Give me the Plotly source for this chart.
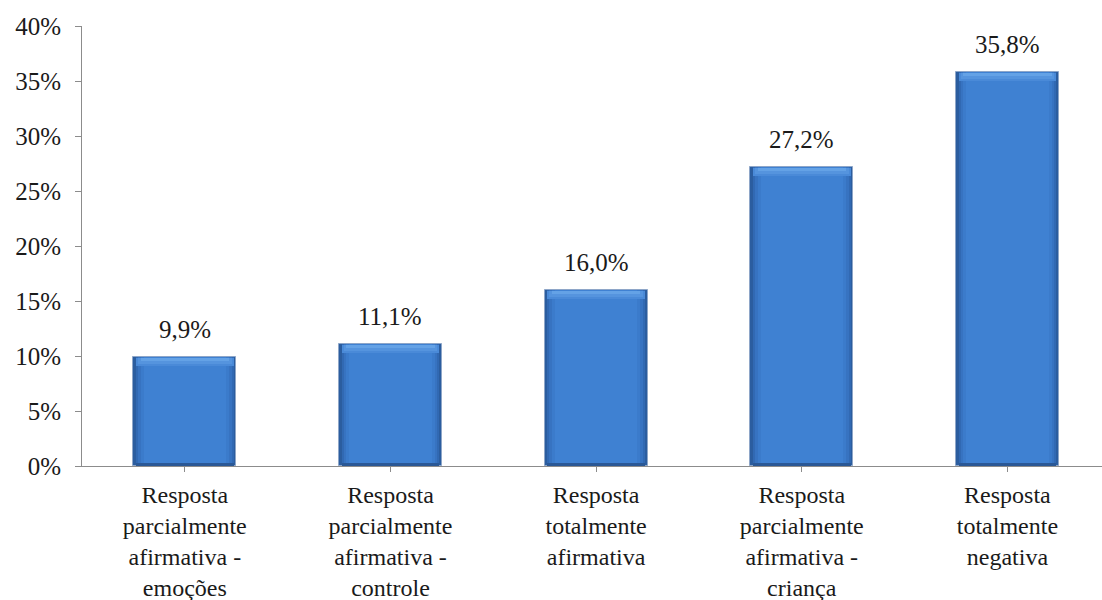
import plotly.graph_objects as go

categories = [
    "Resposta<br>parcialmente<br>afirmativa -<br>emoções",
    "Resposta<br>parcialmente<br>afirmativa -<br>controle",
    "Resposta<br>totalmente<br>afirmativa",
    "Resposta<br>parcialmente<br>afirmativa -<br>criança",
    "Resposta<br>totalmente<br>negativa",
]
values = [9.9, 11.1, 16.0, 27.2, 35.8]
y_ticks = [0, 5, 10, 15, 20, 25, 30, 35, 40]
y_tick_labels = ["0%", "5%", "10%", "15%", "20%", "25%", "30%", "35%", "40%"]

FONT = "Liberation Serif"
TEXT_COLOR = "#1a1a1a"
PX_PER_UNIT = 440 / 40.0  # plot height / y span
x = list(range(len(categories)))

fig = go.Figure()

# Layered bars give the bevelled, shaded look: darker rim, lighter core.
layers = [
    (0.50, "#2b5d9f", 1, "#8ea6c8"),
    (0.475, "#3169b3", 0, None),
    (0.455, "#3773c1", 0, None),
    (0.43, "#3b7bcb", 0, None),
    (0.40, "#3f81d2", 0, None),
]
for w, col, lw, lcol in layers:
    fig.add_trace(go.Bar(
        x=x, y=values, width=w,
        marker=dict(color=col, line=dict(width=lw, color=lcol or col)),
        hoverinfo="skip", showlegend=False,
    ))

# darker strip at the bottom of each bar
bot_h = 3 / PX_PER_UNIT
fig.add_trace(go.Bar(
    x=x, y=[bot_h] * len(values), base=[0] * len(values), width=0.475,
    marker=dict(color="#2a5896", line=dict(width=0)),
    hoverinfo="skip", showlegend=False,
))

# light bevel along the top edge
for h, w, col in [(9, 0.475, "#4a8ad8"), (7, 0.455, "#5594de"), (4, 0.43, "#64a2e6")]:
    hh = h / PX_PER_UNIT
    top_off = 1.2 / PX_PER_UNIT
    fig.add_trace(go.Bar(
        x=x, y=[hh - top_off] * len(values), base=[v - hh for v in values], width=w,
        marker=dict(color=col, line=dict(width=0)),
        hoverinfo="skip", showlegend=False,
    ))

# value labels above each bar
for xi, v in zip(x, values):
    fig.add_annotation(
        x=xi, y=v, text=f"{v:.1f}".replace(".", ",") + "%",
        showarrow=False, yanchor="bottom", yshift=12,
        font=dict(family=FONT, size=25, color=TEXT_COLOR),
    )

fig.update_layout(
    barmode="overlay",
    width=1102, height=600,
    margin=dict(l=82, r=0, t=26, b=134),
    paper_bgcolor="white", plot_bgcolor="white",
    font=dict(family=FONT, size=24, color=TEXT_COLOR),
    xaxis=dict(
        tickmode="array", tickvals=x, ticktext=categories,
        range=[-0.5, 4.46], showgrid=False, zeroline=False,
        showline=True, linecolor="#8c8c8c", linewidth=1,
        ticks="outside", ticklen=5, tickcolor="#8c8c8c",
        tickson="boundaries", tickangle=0, automargin=False,
        ticklabelstandoff=2,
        tickfont=dict(family=FONT, size=24, color=TEXT_COLOR),
    ),
    yaxis=dict(
        range=[0, 40], tickmode="array", tickvals=y_ticks, ticktext=y_tick_labels,
        showgrid=False, zeroline=False, automargin=False,
        showline=True, linecolor="#8c8c8c", linewidth=1,
        ticks="outside", ticklen=6, tickcolor="#8c8c8c",
        ticklabelstandoff=9,
        tickfont=dict(family=FONT, size=25, color=TEXT_COLOR),
    ),
    bargap=0,
)

fig.write_html("out.html")
